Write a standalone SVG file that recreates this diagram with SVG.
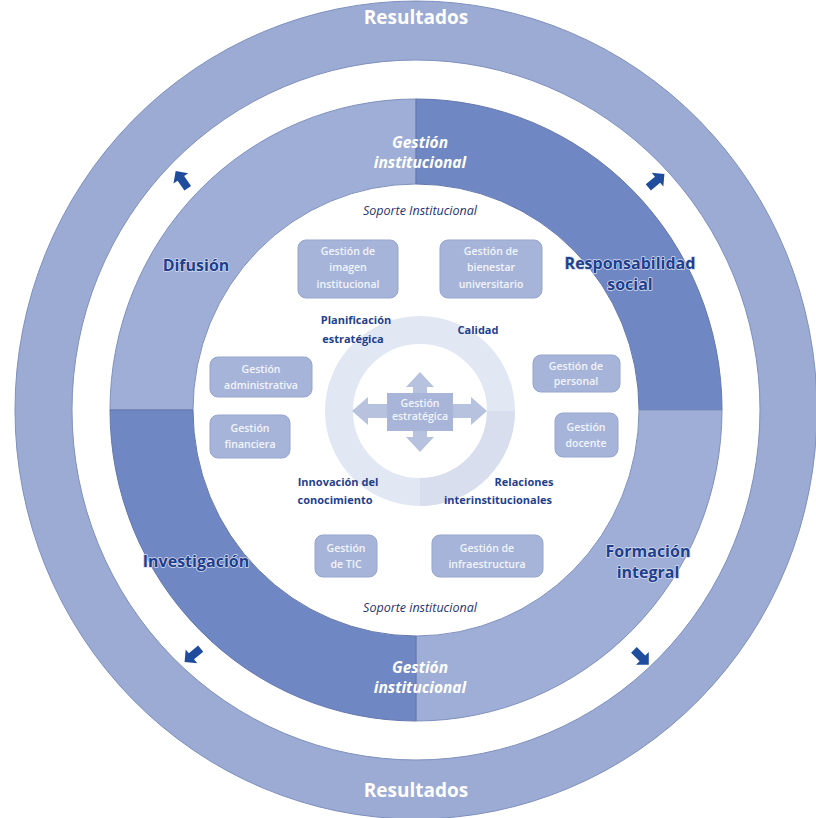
<svg xmlns="http://www.w3.org/2000/svg" width="816" height="818" viewBox="0 0 816 818">
<style>
.ring{fill:#9babd4;stroke:#7f90bd;stroke-width:1}
.qlight{fill:#9eaed6;stroke:#7f90bd;stroke-width:1}
.qdark{fill:#6f87c3;stroke:#6477ad;stroke-width:1}
.box{fill:#a7b4d9;stroke:#96a5cf;stroke-width:1}
.btxt{font-family:"Open Sans","Noto Sans",sans-serif;font-weight:600;font-size:10.5px;fill:#f1f4fb;text-anchor:middle}
.lbl{font-family:"Open Sans","Noto Sans",sans-serif;font-weight:700;font-size:11px;fill:#1f3f8c;text-anchor:middle}
.quad{font-family:"Open Sans","Noto Sans",sans-serif;font-weight:700;font-size:16px;fill:#1f3f8c;text-anchor:middle;stroke:#d2daef;stroke-width:1.6;paint-order:stroke;stroke-linejoin:round}
.res{font-family:"Open Sans","Noto Sans",sans-serif;font-weight:700;font-size:19px;fill:#ffffff;text-anchor:middle}
.gi{font-family:"Open Sans","Noto Sans",sans-serif;font-weight:700;font-style:italic;font-size:15.5px;fill:#ffffff;text-anchor:middle}
.sop{font-family:"Open Sans","Noto Sans",sans-serif;font-style:italic;font-size:12.5px;fill:#1f3370;text-anchor:middle}
.arr{fill:#1f4c9c}
.cross{fill:#b7c2df}
</style>
<defs>
<path id="smallArrow" d="M -10 -4 L 2 -4 L 2 -9 L 11 0 L 2 9 L 2 4 L -10 4 Z"/>
</defs>
<rect width="816" height="818" fill="#ffffff"/>

<g id="resultados">
<path class="ring" fill-rule="evenodd" d="M 15 410 A 401 409 0 1 1 817 410 A 401 409 0 1 1 15 410 Z M 72 410 A 344 350 0 1 0 760 410 A 344 350 0 1 0 72 410 Z"/>
<text class="res" x="416" y="24">Resultados</text>
<text class="res" x="416" y="797">Resultados</text>
</g>

<g id="difusion">
<path class="qlight" d="M 110 410 A 306 311 0 0 1 416 99 L 416 184 A 223 226 0 0 0 193 410 Z"/>
<text class="quad" x="196" y="271">Difusión</text>
</g>
<g id="responsabilidad-social">
<path class="qdark" d="M 416 99 A 306 311 0 0 1 722 410 L 639 410 A 223 226 0 0 0 416 184 Z"/>
<text class="quad" x="630" y="269" font-size="15">Responsabilidad</text>
<text class="quad" x="630" y="290" font-size="15">social</text>
</g>
<g id="formacion-integral">
<path class="qlight" d="M 722 410 A 306 311 0 0 1 416 721 L 416 636 A 223 226 0 0 0 639 410 Z"/>
<text class="quad" x="648" y="557">Formación</text>
<text class="quad" x="648" y="578">integral</text>
</g>
<g id="investigacion">
<path class="qdark" d="M 416 721 A 306 311 0 0 1 110 410 L 193 410 A 223 226 0 0 0 416 636 Z"/>
<text class="quad" x="196" y="567">Investigación</text>
</g>

<g id="gestion-institucional-top">
<text class="gi" x="420" y="148">Gestión</text>
<text class="gi" x="420" y="168">institucional</text>
</g>
<g id="gestion-institucional-bottom">
<text class="gi" x="420" y="673">Gestión</text>
<text class="gi" x="420" y="693">institucional</text>
</g>

<g id="soporte-top"><text class="sop" x="420" y="215">Soporte Institucional</text></g>
<g id="soporte-bottom"><text class="sop" x="420" y="612">Soporte institucional</text></g>

<g id="donut">
<circle cx="420" cy="411" r="81" fill="none" stroke="#e1e7f3" stroke-width="28"/>
<path d="M 515 411 A 95 95 0 0 1 420 506 L 420 478 A 67 67 0 0 0 487 411 Z" fill="#d8deed"/>
</g>

<g id="gestion-estrategica">
<polygon class="cross" points="420,372 434,387 427,387 427,395 413,395 413,387 406,387"/>
<polygon class="cross" points="420,452 434,437 427,437 427,429 413,429 413,437 406,437"/>
<polygon class="cross" points="352,411 368,397 368,404 390,404 390,418 368,418 368,425"/>
<polygon class="cross" points="487,411 471,397 471,404 450,404 450,418 471,418 471,425"/>
<rect x="387" y="393" width="66" height="38" fill="#a8b5d9"/>
<text class="btxt" x="420" y="407" font-size="8" font-weight="600">Gestión</text>
<text class="btxt" x="420" y="420" font-size="8" font-weight="600">estratégica</text>
</g>

<g id="planificacion"><text class="lbl" x="356" y="324">Planificación</text><text class="lbl" x="353" y="343">estratégica</text></g>
<g id="calidad"><text class="lbl" x="478" y="334">Calidad</text></g>
<g id="innovacion"><text class="lbl" x="338" y="486">Innovación del</text><text class="lbl" x="335" y="504">conocimiento</text></g>
<g id="relaciones"><text class="lbl" x="524" y="486">Relaciones</text><text class="lbl" x="498" y="504">interinstitucionales</text></g>

<g id="gestion-imagen">
<rect class="box" x="298" y="240" width="100" height="58" rx="8"/>
<text class="btxt" x="348" y="255">Gestión de</text>
<text class="btxt" x="348" y="271">imagen</text>
<text class="btxt" x="348" y="288">institucional</text>
</g>
<g id="gestion-bienestar">
<rect class="box" x="440" y="240" width="102" height="58" rx="8"/>
<text class="btxt" x="491" y="255">Gestión de</text>
<text class="btxt" x="491" y="271">bienestar</text>
<text class="btxt" x="491" y="288">universitario</text>
</g>
<g id="gestion-administrativa">
<rect class="box" x="210" y="357" width="102" height="40" rx="8"/>
<text class="btxt" x="261" y="373">Gestión</text>
<text class="btxt" x="261" y="389">administrativa</text>
</g>
<g id="gestion-financiera">
<rect class="box" x="210" y="415" width="80" height="43" rx="8"/>
<text class="btxt" x="250" y="432">Gestión</text>
<text class="btxt" x="250" y="448">financiera</text>
</g>
<g id="gestion-personal">
<rect class="box" x="533" y="355" width="87" height="37" rx="8"/>
<text class="btxt" x="576" y="370">Gestión de</text>
<text class="btxt" x="576" y="385">personal</text>
</g>
<g id="gestion-docente">
<rect class="box" x="555" y="413" width="63" height="44" rx="8"/>
<text class="btxt" x="586" y="431">Gestión</text>
<text class="btxt" x="586" y="447">docente</text>
</g>
<g id="gestion-tic">
<rect class="box" x="315" y="535" width="62" height="42" rx="8"/>
<text class="btxt" x="346" y="552">Gestión</text>
<text class="btxt" x="346" y="568">de TIC</text>
</g>
<g id="gestion-infraestructura">
<rect class="box" x="432" y="535" width="111" height="42" rx="8"/>
<text class="btxt" x="487" y="552">Gestión de</text>
<text class="btxt" x="487" y="568">infraestructura</text>
</g>

<g id="connectors">
<use href="#smallArrow" class="arr" transform="translate(182,180) rotate(-125)"/>
<use href="#smallArrow" class="arr" transform="translate(656,181) rotate(-40)"/>
<use href="#smallArrow" class="arr" transform="translate(193,655) rotate(140)"/>
<use href="#smallArrow" class="arr" transform="translate(641,657) rotate(45)"/>
</g>
</svg>
